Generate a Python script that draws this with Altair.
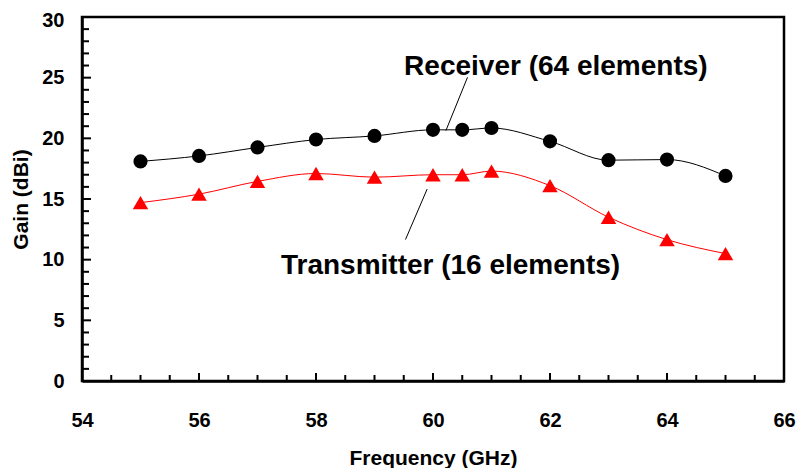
import altair as alt
import pandas as pd

freq = [55, 56, 57, 58, 59, 60, 60.5, 61, 62, 63, 64, 65]
receiver = [18.1, 18.55, 19.25, 19.9, 20.2, 20.7, 20.7, 20.85, 19.75, 18.2, 18.25, 16.9]
transmitter = [14.7, 15.4, 16.45, 17.1, 16.8, 17.0, 17.0, 17.3, 16.1, 13.5, 11.65, 10.5]

x_major = [54, 56, 58, 60, 62, 64, 66]
x_minor = [54.5, 55, 55.5, 56.5, 57, 57.5, 58.5, 59, 59.5, 60.5, 61, 61.5,
           62.5, 63, 63.5, 64.5, 65, 65.5]
y_major = [0, 5, 10, 15, 20, 25, 30]
y_minor = [v for v in range(0, 31) if v % 5 != 0]

labels = ["Receiver (64 elements)", "Transmitter (16 elements)"]
label_x = [62.1, 60.3]
label_y = [25.9, 9.45]
leader_x1 = [60.59, 59.90]
leader_y1 = [25.03, 15.82]
leader_x2 = [60.22, 59.53]
leader_y2 = [20.63, 11.66]

W, H = 702, 364
FONT = "Liberation Sans"

rx = pd.DataFrame({"f": freq, "g": receiver})
tx = pd.DataFrame({"f": freq, "g": transmitter})

xs = alt.Scale(domain=[54, 66], nice=False, zero=False)
ys = alt.Scale(domain=[0, 30], nice=False)

x_axis = alt.Axis(values=x_major, format="d", title="Frequency (GHz)", tickSize=0, labelPadding=29,
                  labelFontSize=20, labelFont=FONT, labelFontWeight="bold", labelColor="black",
                  titleFontSize=21, titleFont=FONT, titleFontWeight="bold", titleColor="black",
                  titleY=77, titleBaseline="middle", domainColor="black", domainWidth=2.5,
                  grid=False, labelFlush=False)
y_axis = alt.Axis(values=y_major, format="d", title="Gain (dBi)", tickSize=0, labelPadding=18,
                  labelFontSize=20, labelFont=FONT, labelFontWeight="bold", labelColor="black",
                  labelOffset={"condition": {"test": "datum.value === 30", "value": 3}, "value": 0},
                  titleFontSize=21, titleFont=FONT, titleFontWeight="bold", titleColor="black",
                  titleX=-61, titleBaseline="middle", domainColor="black", domainWidth=2.5,
                  grid=False, labelFlush=False)

base_r = alt.Chart(rx).encode(x=alt.X("f:Q", scale=xs, axis=x_axis),
                              y=alt.Y("g:Q", scale=ys, axis=y_axis))
r_line = base_r.mark_line(color="black", strokeWidth=1, interpolate="monotone")
r_pts = base_r.mark_point(shape="circle", filled=True, color="black", size=200, opacity=1)

base_t = alt.Chart(tx).encode(x=alt.X("f:Q", scale=xs), y=alt.Y("g:Q", scale=ys))
t_line = base_t.mark_line(color="#ff0000", strokeWidth=1, interpolate="monotone")
t_pts = base_t.mark_point(shape="triangle-up", filled=True, color="#ff0000", size=240, opacity=1)

xmaj = alt.Chart(pd.DataFrame({"t": x_major})).mark_rule(color="black", strokeWidth=2).encode(
    x=alt.X("t:Q", scale=xs), y=alt.value(H), y2=alt.value(H - 8))
xmin = alt.Chart(pd.DataFrame({"t": x_minor})).mark_rule(color="black", strokeWidth=2).encode(
    x=alt.X("t:Q", scale=xs), y=alt.value(H), y2=alt.value(H - 6))
ymaj = alt.Chart(pd.DataFrame({"t": y_major})).mark_rule(color="black", strokeWidth=2).encode(
    y=alt.Y("t:Q", scale=ys), x=alt.value(0), x2=alt.value(9))
ymin = alt.Chart(pd.DataFrame({"t": y_minor})).mark_rule(color="black", strokeWidth=2).encode(
    y=alt.Y("t:Q", scale=ys), x=alt.value(0), x2=alt.value(7))

ann = pd.DataFrame({"label": labels, "x": label_x, "y": label_y})
texts = alt.Chart(ann).mark_text(font=FONT, fontWeight="bold", fontSize=28, color="black",
                                 align="center", baseline="middle").encode(
    x=alt.X("x:Q", scale=xs), y=alt.Y("y:Q", scale=ys), text="label:N")

lead = pd.DataFrame({"x1": leader_x1, "y1": leader_y1, "x2": leader_x2, "y2": leader_y2})
leaders = alt.Chart(lead).mark_rule(color="black", strokeWidth=1).encode(
    x=alt.X("x1:Q", scale=xs), y=alt.Y("y1:Q", scale=ys), x2="x2:Q", y2="y2:Q")

chart = alt.layer(xmaj, xmin, ymaj, ymin, leaders, r_line, t_line, r_pts, t_pts, texts).properties(
    width=W, height=H,
    autosize=alt.AutoSizeParams(type="none"),
    padding={"left": 74, "top": 9, "right": 14, "bottom": 87},
    background="white",
).configure_view(stroke="black", strokeWidth=2.5)

chart.save("out.html", embed_options={"renderer": "svg", "actions": False})
